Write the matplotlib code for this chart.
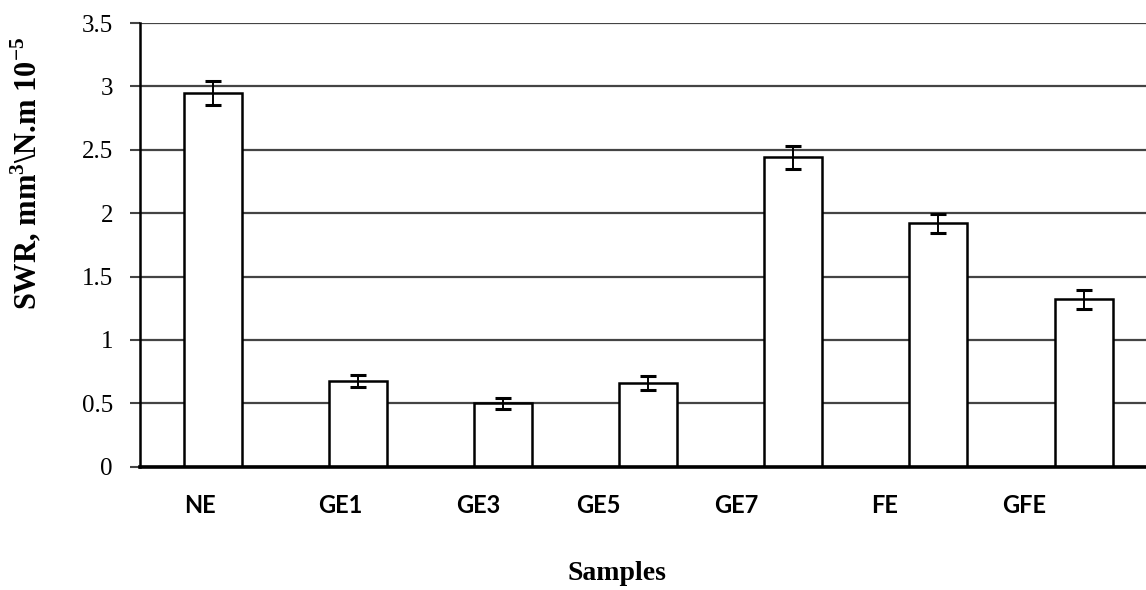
import numpy as np
import matplotlib
matplotlib.use("Agg")
import matplotlib.pyplot as plt

plt.rcParams['mathtext.fontset'] = 'custom'
plt.rcParams['mathtext.rm'] = 'Liberation Serif:bold'
plt.rcParams['mathtext.bf'] = 'Liberation Serif:bold'

# data
muestras = ['NE', 'GE1', 'GE3', 'GE5', 'GE7', 'FE', 'GFE']
swr = [2.95, 0.675, 0.50, 0.66, 2.44, 1.92, 1.32]
error = [0.095, 0.05, 0.045, 0.055, 0.09, 0.075, 0.075]
yticks = [0, 0.5, 1, 1.5, 2, 2.5, 3, 3.5]
ytick_labels = ['0', '0.5', '1', '1.5', '2', '2.5', '3', '3.5']

# the category labels sit off-centre under the bars in the original
desfase = [-0.09, -0.12, -0.17, -0.34, -0.39, -0.37, -0.41]

fig = plt.figure(figsize=(11.46, 5.90), dpi=100)
ax = fig.add_axes([140/1146, 123.3/590, 1006/1146, 443.7/590])

x = np.arange(len(muestras))
ax.bar(x, swr, width=0.4, color='white', edgecolor='black', linewidth=1.8, zorder=3)
ax.errorbar(x, swr, yerr=error, fmt='none', ecolor='black', elinewidth=1.4,
            capsize=5.5, capthick=2.2, zorder=4)

ax.set_xlim(-0.5, 6.43)
ax.set_ylim(0, 3.5)

ax.tick_params(axis='y', length=7.5, width=1.5, color='#444444', pad=12)
ax.tick_params(axis='x', length=0, pad=20)

ax.set_yticks(yticks)
ax.set_yticklabels(ytick_labels, fontfamily='Liberation Serif', fontsize=18)

ax.set_xticks(x + np.array(desfase))
ax.set_xticklabels(muestras, fontfamily='Lato', fontweight='bold', fontsize=17)

ax.grid(axis='y', color='#444444', linewidth=1.6, zorder=0)
ax.set_axisbelow(True)

for lado in ['top', 'right']:
    ax.spines[lado].set_visible(False)
ax.spines['left'].set_linewidth(1.8)
ax.spines['bottom'].set_linewidth(2.6)
ax.spines['bottom'].set_zorder(5)

fig.text(26/1146, 1 - 173.5/590, r'SWR, mm$^{\mathbf{3}}$\N.m 10$^{\mathbf{-5}}$',
         rotation=90, ha='center', va='center', fontfamily='Liberation Serif',
         fontweight='bold', fontsize=22)
fig.text(617/1146, 1 - 580/590, 'Samples', ha='center', va='baseline',
         fontfamily='Liberation Serif', fontweight='bold', fontsize=20)

fig.savefig('out.png', dpi=100)
